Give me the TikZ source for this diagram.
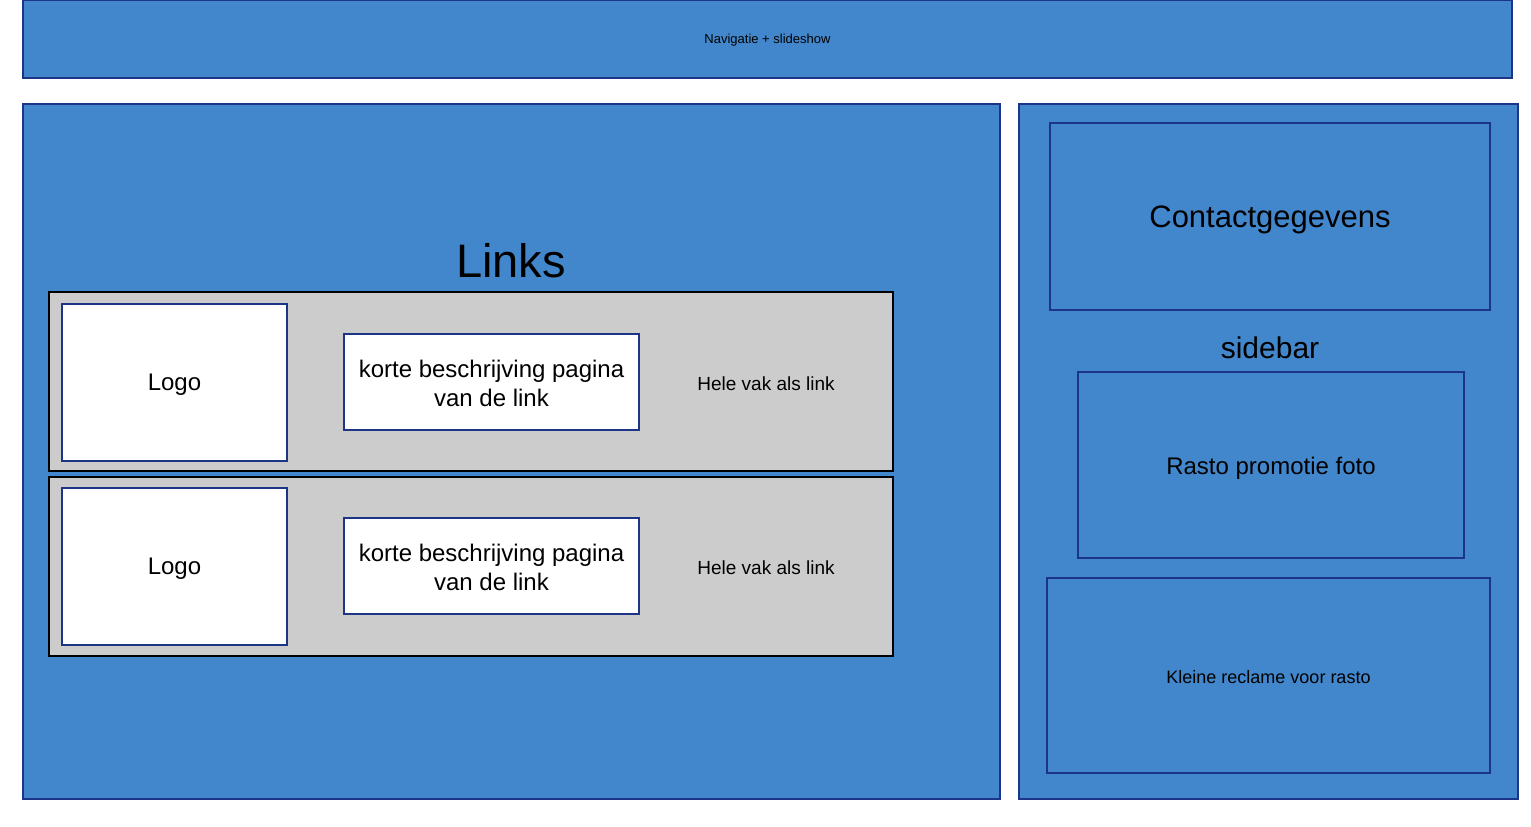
\documentclass[tikz,border=0pt]{standalone}
\usepackage{fontspec}
\setmainfont{Liberation Sans}
\definecolor{boxblue}{RGB}{66,135,204}
\definecolor{navy}{RGB}{28,53,135}
\definecolor{lgray}{RGB}{204,204,204}
\newcommand{\fs}[1]{\fontsize{#1}{\the\numexpr#1*6/5\relax}\selectfont}
\begin{document}
\begin{tikzpicture}[x=1pt,y=-1pt,
  bluebox/.style={draw=navy,fill=boxblue,line width=1.8pt,inner sep=0pt,align=center},
  graybox/.style={draw=black,fill=lgray,line width=1.8pt,inner sep=0pt},
  whitebox/.style={draw=navy,fill=white,line width=1.8pt,inner sep=0pt,align=center},
  lbl/.style={inner sep=0pt,align=center}]
\useasboundingbox (0,0) rectangle (1531,827);
\node[bluebox,minimum width=1489pt,minimum height=78pt] (nav) at (767.5,39) {};
\node[lbl,font=\fs{13}] (navt) at (767.5,40) {Navigatie + slideshow};
\node[bluebox,minimum width=977pt,minimum height=695pt] (main) at (511.5,451.5) {};
\node[bluebox,minimum width=499pt,minimum height=695pt] (side) at (1268.5,451.5) {};
\node[bluebox,minimum width=440pt,minimum height=187pt] (contact) at (1270,216.5) {};
\node[lbl,font=\fs{31}] (contactt) at (1270,220) {Contactgegevens};
\node[lbl,font=\fs{30}] (sidebar) at (1270,348) {sidebar};
\node[bluebox,minimum width=386pt,minimum height=186pt] (rasto) at (1271,465) {};
\node[lbl,font=\fs{24}] (rastot) at (1271,468) {Rasto promotie foto};
\node[bluebox,minimum width=443pt,minimum height=195pt] (kleine) at (1268.5,675.5) {};
\node[lbl,font=\fs{18}] (kleinet) at (1268.5,677) {Kleine reclame voor rasto};
\node[lbl,font=\fs{47}] (links) at (511,261) {Links};
\node[graybox,minimum width=844pt,minimum height=179pt] (row1) at (471,381.5) {};
\node[graybox,minimum width=844pt,minimum height=179pt] (row2) at (471,566.5) {};
\node[whitebox,minimum width=225pt,minimum height=157pt] (logo1) at (174.5,382.5) {};
\node[lbl,font=\fs{24}] (logo1t) at (174.5,385) {Logo};
\node[whitebox,minimum width=225pt,minimum height=157pt] (logo2) at (174.5,566.5) {};
\node[lbl,font=\fs{24}] (logo2t) at (174.5,569) {Logo};
\node[whitebox,minimum width=295pt,minimum height=96pt] (desc1) at (491.5,382) {};
\node[lbl,font=\fs{24}] (desc1t) at (491.5,383) {korte beschrijving pagina\\van de link};
\node[whitebox,minimum width=295pt,minimum height=96pt] (desc2) at (491.5,566) {};
\node[lbl,font=\fs{24}] (desc2t) at (491.5,567) {korte beschrijving pagina\\van de link};
\node[lbl,font=\fs{19}] (hele1) at (766,384) {Hele vak als link};
\node[lbl,font=\fs{19}] (hele2) at (766,568) {Hele vak als link};
\end{tikzpicture}
\end{document}
